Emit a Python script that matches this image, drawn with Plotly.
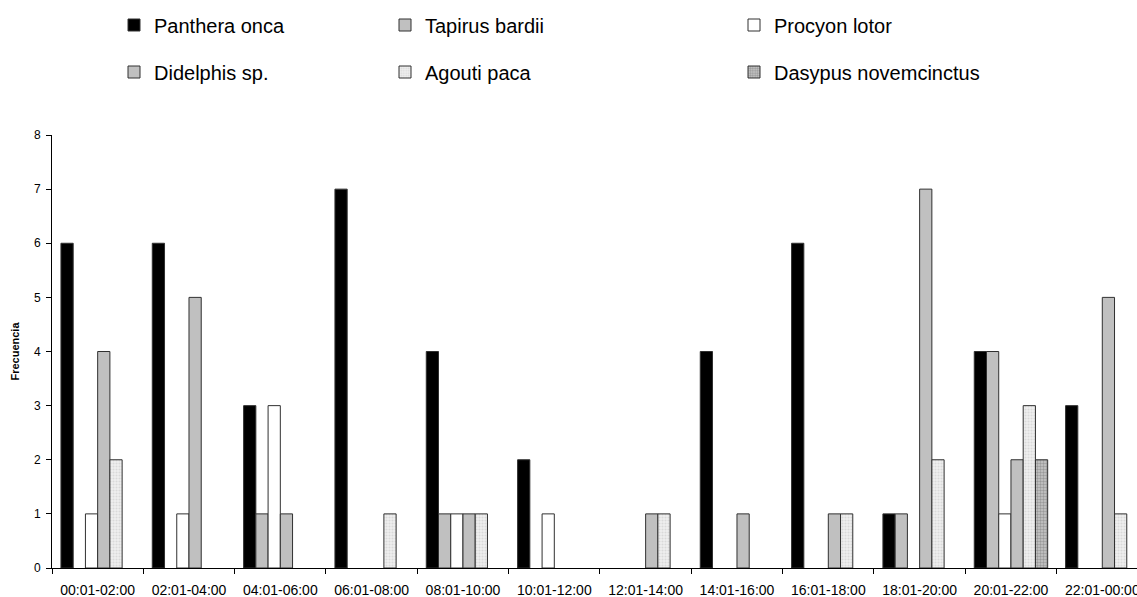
import plotly.graph_objects as go

categories = ["00:01-02:00", "02:01-04:00", "04:01-06:00", "06:01-08:00",
              "08:01-10:00", "10:01-12:00", "12:01-14:00", "14:01-16:00",
              "16:01-18:00", "18:01-20:00", "20:01-22:00", "22:01-00:00"]
panthera = [6, 6, 3, 7, 4, 2, 0, 4, 6, 1, 4, 3]
tapirus = [0, 0, 1, 0, 1, 0, 0, 0, 0, 1, 4, 0]
procyon = [1, 1, 3, 0, 1, 1, 0, 0, 0, 0, 1, 0]
didelphis = [4, 5, 1, 0, 1, 0, 1, 1, 1, 7, 2, 5]
agouti = [2, 0, 0, 1, 1, 0, 1, 0, 1, 2, 3, 1]
dasypus = [0, 0, 0, 0, 0, 0, 0, 0, 0, 0, 2, 0]

W, H = 1137, 597
ML, MR, MT, MB = 52, 0, 135, H - 568
PW, PH = W - ML - MR, H - MT - MB
FONT = "Liberation Sans, Arial, sans-serif"

series = [
    ("Panthera onca", panthera, dict(color="#000000"), "legend", 0, 0),
    ("Tapirus bardii", tapirus, dict(color="#C0C0C0"), "legend2", 1, 0),
    ("Procyon lotor", procyon, dict(color="#FFFFFF"), "legend3", 2, 0),
    ("Didelphis sp.", didelphis, dict(color="#C0C0C0"), "legend4", 0, 1),
    ("Agouti paca", agouti, dict(color="#E8E8E8",
                                 pattern=dict(shape=".", fgcolor="#C4C4C4", bgcolor="#EEEEEE",
                                              size=3, solidity=0.35)), "legend5", 1, 1),
    ("Dasypus novemcinctus", dasypus, dict(color="#A0A0A0",
                                           pattern=dict(shape=".", fgcolor="#6A6A6A", bgcolor="#C8C8C8",
                                                        size=3, solidity=0.5)), "legend6", 2, 1),
]

fig = go.Figure()
for name, vals, mk, lg, col, row in series:
    marker = dict(mk)
    marker["line"] = dict(color="#303030", width=1)
    fig.add_trace(go.Bar(x=categories, y=[v if v else None for v in vals], name=name,
                         marker=marker, legend=lg, showlegend=True))

col_x = [128, 399, 748]
row_y = [25, 72]
legends = {}
for name, vals, mk, lg, col, row in series:
    legends[lg] = dict(
        x=(col_x[col] - 14 - ML) / PW, y=(H - MB - row_y[row]) / PH,
        xanchor="left", yanchor="middle",
        bgcolor="rgba(0,0,0,0)", borderwidth=0,
        font=dict(family=FONT, size=20, color="#000000"),
        visible=True,
    )

fig.update_layout(
    width=W, height=H,
    margin=dict(l=ML, r=MR, t=MT, b=MB, autoexpand=False),
    paper_bgcolor="white", plot_bgcolor="white",
    barmode="group", bargap=0.196, bargroupgap=0,
    font=dict(family=FONT, color="#000000"),
    showlegend=True,
    **legends,
)
fig.update_xaxes(
    type="category", range=[-0.5, 11.38],
    showline=True, linecolor="#000000", linewidth=1,
    ticks="outside", tickson="boundaries", ticklen=5, tickcolor="#000000",
    showgrid=False, zeroline=False, tickangle=0, automargin=False,
    tickfont=dict(family=FONT, size=14, color="#000000"),
    ticklabelstandoff=9, ticklabeloverflow="allow",
)
fig.update_yaxes(
    range=[0, 8], dtick=1,
    showline=True, linecolor="#000000", linewidth=1,
    ticks="outside", ticklen=5, tickcolor="#000000",
    showgrid=False, zeroline=False, automargin=False,
    tickfont=dict(family=FONT, size=12, color="#000000"),
    ticklabelstandoff=3,
    title=dict(text="<b>Frecuencia</b>", font=dict(family=FONT, size=11, color="#000000"), standoff=12),
)

fig.write_html("out.html", config={"displayModeBar": False},
               post_script="document.body.style.margin='0';document.body.style.overflow='hidden';")
